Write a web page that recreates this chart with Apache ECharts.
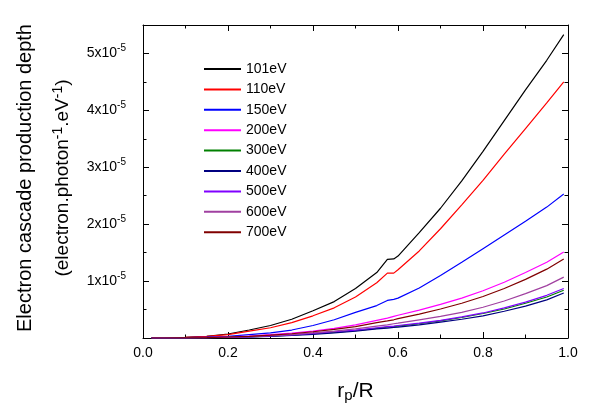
<!DOCTYPE html>
<html><head><meta charset="utf-8">
<script src="https://cdn.jsdelivr.net/npm/echarts@6/dist/echarts.min.js"></script>
<style>html,body{margin:0;padding:0;background:#fff}#c{width:598px;height:408px}</style>
</head><body><div id="c"></div>
<script>
// x positions (r_p/R)
var xs = [0.02,0.05,0.1,0.15,0.2,0.25,0.3,0.35,0.4,0.45,0.5,0.55,0.575,0.59,0.6,0.65,0.7,0.75,0.8,0.85,0.9,0.95,0.99];
// values in units of 1e-5 electron.photon^-1.eV^-1
var seriesNames = ['101eV','110eV','150eV','200eV','300eV','400eV','500eV','600eV','700eV'];
var v101 = [0,0,0.01,0.03,0.07,0.14,0.22,0.33,0.48,0.64,0.87,1.15,1.38,1.39,1.44,1.85,2.28,2.76,3.28,3.82,4.36,4.88,5.33];
var v110 = [0,0.005,0.01,0.03,0.06,0.12,0.18,0.27,0.39,0.53,0.72,0.97,1.14,1.14,1.2,1.53,1.92,2.34,2.77,3.23,3.68,4.13,4.5];
var v150 = [0,0,0.005,0.015,0.03,0.06,0.09,0.14,0.22,0.32,0.45,0.57,0.66,0.68,0.7,0.88,1.1,1.33,1.57,1.81,2.05,2.3,2.53];
var v200 = [0,0,0.003,0.008,0.02,0.035,0.06,0.085,0.12,0.17,0.23,0.31,0.35,0.38,0.4,0.49,0.59,0.7,0.83,0.98,1.15,1.33,1.51];
var v300 = [0,0,0.002,0.005,0.011,0.02,0.033,0.05,0.075,0.1,0.13,0.17,0.19,0.2,0.21,0.25,0.3,0.36,0.43,0.51,0.61,0.72,0.84];
var v400 = [0,0,0.002,0.004,0.01,0.018,0.03,0.045,0.065,0.09,0.12,0.16,0.175,0.185,0.19,0.23,0.28,0.33,0.39,0.47,0.56,0.67,0.79];
var v500 = [0,0,0.002,0.005,0.012,0.02,0.035,0.055,0.08,0.11,0.14,0.18,0.2,0.21,0.22,0.26,0.31,0.37,0.44,0.53,0.63,0.75,0.87];
var v600 = [0,0,0.002,0.006,0.015,0.025,0.04,0.06,0.09,0.12,0.16,0.21,0.23,0.25,0.26,0.32,0.38,0.45,0.54,0.65,0.78,0.92,1.07];
var v700 = [0,0,0.003,0.007,0.018,0.03,0.05,0.075,0.11,0.15,0.2,0.27,0.3,0.32,0.34,0.42,0.51,0.61,0.73,0.87,1.03,1.21,1.39];
var xTicks = ['0.0','0.2','0.4','0.6','0.8','1.0'];
var yTickLabels = ['1x10','2x10','3x10','4x10','5x10'];
var seriesValues = [v101,v110,v150,v200,v300,v400,v500,v600,v700];
var colors = ['#000000','#ff0000','#0000ff','#ff00ff','#008000','#000080','#8000ff','#a040a0','#800000'];

var font = 'Liberation Sans, Arial, sans-serif';
var chart = echarts.init(document.getElementById('c'), null, {renderer:'canvas'});
var series = seriesNames.map(function(n,i){
  return {name:n, type:'line', symbol:'none', xAxisIndex:0, yAxisIndex:0,
    lineStyle:{color:colors[i], width:1.2}, itemStyle:{color:colors[i]},
    data: xs.map(function(x,j){return [x, seriesValues[i][j]];})};
});
var tickCommon = {show:true, inside:true, length:6, lineStyle:{color:'#000',width:1}};
var minorCommon = {show:true, splitNumber:2, length:3.5, lineStyle:{color:'#000',width:1}};
var lineCommon = {show:true, onZero:false, lineStyle:{color:'#000',width:1}};
chart.setOption({
  animation:false,
  textStyle:{fontFamily:font},
  grid:{left:143, right:30, top:25, bottom:70},
  legend:{orient:'vertical', left:204, top:62, padding:0, itemWidth:37, itemHeight:2, itemGap:6.4,
    icon:'rect',
    textStyle:{fontFamily:font, fontSize:14, color:'#000', padding:[0,0,0,0], lineHeight:14},
    data: seriesNames},
  xAxis:[{type:'value', min:0, max:1, interval:0.2, position:'bottom',
    axisLine:lineCommon, axisTick:tickCommon, minorTick:minorCommon,
    splitLine:{show:false},
    axisLabel:{fontSize:14, color:'#000', margin:8, fontFamily:font,
      formatter:function(v){var i=Math.round(v/0.2);return xTicks[i]||'';}},
    name:'{n|r}{s|p}{n|/R}', nameLocation:'middle', nameGap:42,
    nameTextStyle:{rich:{n:{fontSize:21,fontFamily:font,color:'#000'},
      s:{fontSize:15,fontFamily:font,color:'#000',verticalAlign:'bottom',padding:[8,0,0,0]}}}},
   {type:'value', min:0, max:1, interval:0.2, position:'top',
    axisLine:lineCommon, axisTick:tickCommon, minorTick:minorCommon,
    splitLine:{show:false}, axisLabel:{show:false}}],
  yAxis:[{type:'value', min:0, max:5.5, interval:1, position:'left',
    axisLine:lineCommon, axisTick:tickCommon, minorTick:minorCommon,
    splitLine:{show:false},
    axisLabel:{margin:17, fontFamily:font, color:'#000',
      formatter:function(v){var i=Math.round(v);
        if(Math.abs(v-i)>1e-6||i<1||i>5) return '';
        return '{b|'+yTickLabels[i-1]+'}{s|-5}';},
      rich:{b:{fontSize:14,fontFamily:font,color:'#000'},
            s:{fontSize:10,fontFamily:font,color:'#000',verticalAlign:'top',padding:[0,0,10,0]}}}},
   {type:'value', min:0, max:5.5, interval:1, position:'right',
    axisLine:lineCommon, axisTick:tickCommon, minorTick:minorCommon,
    splitLine:{show:false}, axisLabel:{show:false}}],
  graphic:[
    {type:'text', x:25, y:178, rotation:Math.PI/2,
     style:{text:'Electron cascade production depth', font:'20px '+font, fill:'#000',
       align:'center', verticalAlign:'middle'}},
    {type:'text', x:63, y:178, rotation:Math.PI/2,
     style:{text:'{n|(electron.photon}{s|-1}{n|.eV}{s|-1}{n|)}', fill:'#000',
       align:'center', verticalAlign:'middle',
       rich:{n:{fontSize:19,fontFamily:font,fill:'#000'},
             s:{fontSize:14,fontFamily:font,fill:'#000',verticalAlign:'top',padding:[0,0,10,0]}}}}
  ],
  series: series
});
</script></body></html>
